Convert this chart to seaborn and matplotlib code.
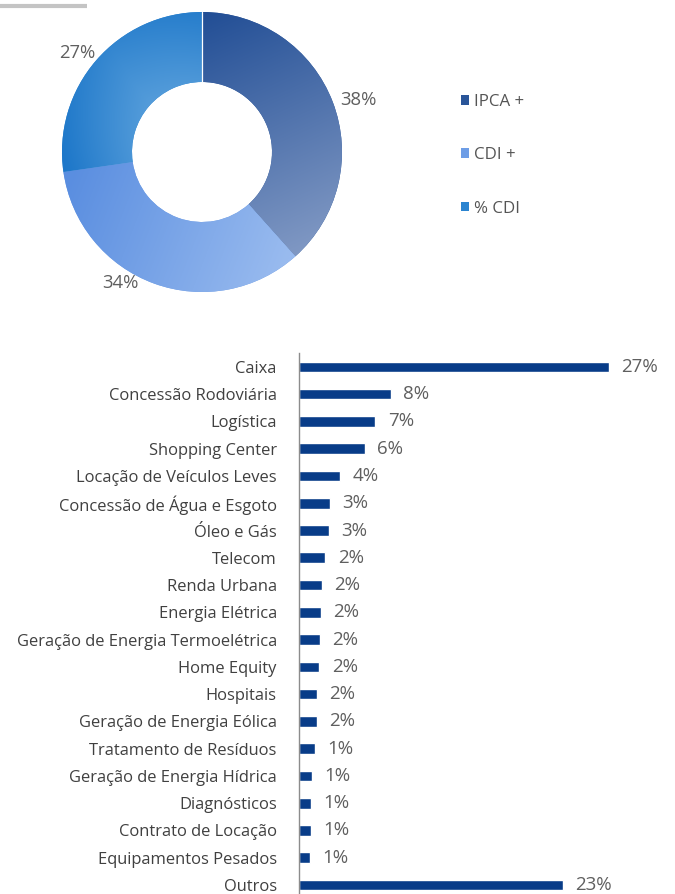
import numpy as np
import matplotlib
matplotlib.use("Agg")
import matplotlib.pyplot as plt
import seaborn as sns
from matplotlib.patches import Patch
from matplotlib.lines import Line2D
from matplotlib.colors import to_rgb

# ---------------- data ----------------
donut_labels = ["IPCA +", "CDI +", "% CDI"]
donut_shares = [38, 34, 27]

sectors = ["Caixa", "Concessão Rodoviária", "Logística", "Shopping Center",
           "Locação de Veículos Leves", "Concessão de Água e Esgoto", "Óleo e Gás",
           "Telecom", "Renda Urbana", "Energia Elétrica",
           "Geração de Energia Termoelétrica", "Home Equity", "Hospitais",
           "Geração de Energia Eólica", "Tratamento de Resíduos",
           "Geração de Energia Hídrica", "Diagnósticos", "Contrato de Locação",
           "Equipamentos Pesados", "Outros"]
sector_values = [27.0, 8.0, 6.65, 5.75, 3.55, 2.7, 2.59, 2.29, 1.98, 1.89,
                 1.83, 1.77, 1.54, 1.54, 1.37, 1.13, 1.05, 1.05, 0.96, 23.0]

# ---------------- style ----------------
sns.set_style("white")
plt.rcParams["font.family"] = ["Open Sans", "DejaVu Sans"]

W, H = 675, 894
fig = plt.figure(figsize=(W / 100, H / 100), dpi=100)

# gray line at top-left
fig.add_artist(Line2D([0, 87 / W], [1 - 5.5 / H] * 2, color="#c4c4c4", lw=3,
                      solid_capstyle="butt"))

# ---------------- donut ----------------
cx, cy, R = 202, 152, 140
half = 150
ax1 = fig.add_axes([(cx - half) / W, 1 - (cy + half) / H, 2 * half / W, 2 * half / H])
solid = ["#2a5599", "#6d9de6", "#2b84d0"]
wedges, _ = ax1.pie(donut_shares, startangle=90, counterclock=False, radius=1,
                    colors=solid, wedgeprops=dict(width=0.5, linewidth=0))

n = 300
xs = np.linspace(-1.05, 1.05, n)
X, Y = np.meshgrid(xs, xs)
Rr = np.hypot(X, Y)


def linear_t(p0, p1):
    d = np.array(p1) - np.array(p0)
    return np.clip(((X - p0[0]) * d[0] + (Y - p0[1]) * d[1]) / (d @ d), 0, 1)


radial = np.clip((1 - Rr) / 0.5, 0, 1)
gradients = [
    ("#1f4c94", "#8199c4", linear_t((-0.1, 1.0), (0.7, -0.75))),
    ("#5a8ee0", "#99bbef", linear_t((-0.95, -0.2), (0.6, -0.8))),
    ("#1d77c9", "#549cda", np.clip(0.55 * radial + 0.45 * linear_t((-0.95, -0.1), (-0.35, 0.3))
                                   - 0.25 * linear_t((-0.4, 0.4), (0.0, 0.9)), 0, 1)),
]
for w, (c0, c1, t) in zip(wedges, gradients):
    t = t[..., None]
    img = (1 - t) * np.array(to_rgb(c0)) + t * np.array(to_rgb(c1))
    im = ax1.imshow(img, extent=[-1.05, 1.05, -1.05, 1.05], origin="lower",
                    zorder=w.get_zorder() + 0.5, interpolation="bilinear")
    im.set_clip_path(w)

# thin white separator at the start of the first slice
th = np.deg2rad(wedges[0].theta2)
ax1.plot([0.5 * np.cos(th), 1.0 * np.cos(th)], [0.5 * np.sin(th), 1.0 * np.sin(th)],
         color="white", lw=0.9, zorder=6)

label_pos = [(1.12, 0.37), (-0.586, -0.936), (-0.893, 0.707)]
for v, (lx, ly) in zip(donut_shares, label_pos):
    ax1.text(lx, ly, f"{v}%", ha="center", va="center", fontsize=13.3,
             color="#5f5f5f")
lim = half / R
ax1.set_xlim(-lim, lim)
ax1.set_ylim(-lim, lim)
ax1.axis("off")

handles = [Patch(facecolor=c, edgecolor="none", label=l) for c, l in zip(solid, donut_labels)]
fig.legend(handles=handles, loc="upper left", bbox_to_anchor=(461 / W, 1 - 94 / H),
           frameon=False, fontsize=12.2, labelcolor="#555555", handlelength=0.5,
           handleheight=0.5, handletextpad=0.25, labelspacing=2.2, borderpad=0,
           borderaxespad=0)

# ---------------- bars ----------------
x0 = 299
top = 353
ax2 = fig.add_axes([x0 / W, 0, 1 - x0 / W, (H - top) / H])
sns.barplot(x=sector_values, y=sectors, orient="h", color="#083c88", saturation=1,
            width=0.39, ax=ax2)
ax2.set_xlim(0, (W - x0) / 11.47)
ax2.set_ylim(19.33, -0.51)
ax2.bar_label(ax2.containers[0], labels=[f"{v:.0f}%" for v in sector_values],
              padding=9, fontsize=13.5, color="#5f5f5f")
for s in ["top", "right", "bottom"]:
    ax2.spines[s].set_visible(False)
ax2.spines["left"].set_color("#8c8c8c")
ax2.spines["left"].set_linewidth(1)
ax2.set_xticks([])
ax2.tick_params(axis="y", length=0, pad=16, labelsize=11.9, labelcolor="#404040")
ax2.set_xlabel("")
ax2.set_ylabel("")

fig.savefig("out.png", dpi=100)
